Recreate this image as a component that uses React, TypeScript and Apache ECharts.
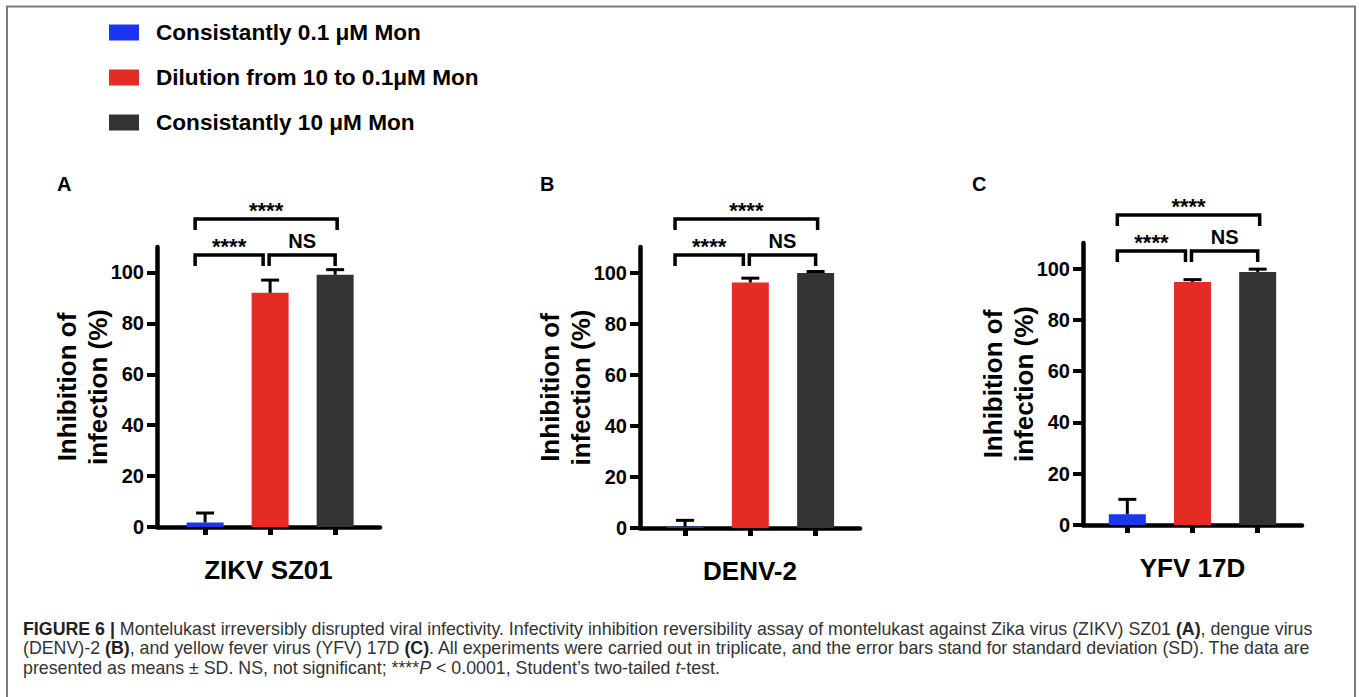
import React, { useEffect, useRef } from 'react';
import * as echarts from 'echarts';

// ---------- data ----------
const legendNames = ['Consistantly 0.1 μM Mon', 'Dilution from 10 to 0.1μM Mon', 'Consistantly 10 μM Mon'];
const barColors = ['#1b35f0', '#e42c25', '#333333'];
const panelLetters = ['A', 'B', 'C'];
const virusNames = ['ZIKV SZ01', 'DENV-2', 'YFV 17D'];
const categoryIndex = [0, 1, 2];

// mean inhibition (%) per group [0.1 µM, dilution, 10 µM]
const meansZIKV = [1.8, 92.0, 99.1];
const meansDENV = [0.5, 96.1, 99.8];
const meansYFV = [4.2, 94.8, 98.7];
// standard deviations
const sdZIKV = [3.7, 5.0, 2.0];
const sdDENV = [2.5, 1.7, 0.6];
const sdYFV = [5.8, 0.9, 1.1];

const yTickValues = [0, 20, 40, 60, 80, 100];
// comparisons: [groupA, groupB, bracket level]
const comparisonPairs = [[0, 1, 0], [1, 2, 0], [0, 2, 1]];
const comparisonLabels = ['****', 'NS', '****'];

const captionLines = [
  '{b|FIGURE 6 |} Montelukast irreversibly disrupted viral infectivity. Infectivity inhibition reversibility assay of montelukast against Zika virus (ZIKV) SZ01 {b|(A)}, dengue virus',
  '(DENV)-2 {b|(B)}, and yellow fever virus (YFV) 17D {b|(C)}. All experiments were carried out in triplicate, and the error bars stand for standard deviation (SD). The data are',
  'presented as means ± SD. NS, not significant; ****{i|P} < 0.0001, Student’s two-tailed {i|t}-test.',
];

const allMeans = [meansZIKV, meansDENV, meansYFV];
const allSds = [sdZIKV, sdDENV, sdYFV];

// ---------- layout ----------
const FONT = '"Liberation Sans", Arial, Helvetica, sans-serif';
const panels = [
  { left: 157, top: 247, width: 223, height: 280, min: -0.74, max: 2.69, letterX: 57 },
  { left: 640, top: 247, width: 220, height: 281, min: -0.69, max: 2.68, letterX: 540 },
  { left: 1083, top: 243, width: 219, height: 282, min: -0.68, max: 2.68, letterX: 972 },
];
const Y_MAX = 110;
const CAPTION_SIZE = 17.8;

export default function App() {
  const ref = useRef<HTMLDivElement>(null);

  useEffect(() => {
    document.body.style.margin = '0';
    const chart = echarts.init(ref.current!, undefined, { renderer: 'svg' });

    const grids: any[] = [];
    const xAxes: any[] = [];
    const yAxes: any[] = [];
    const series: any[] = [];

    panels.forEach((p, pi) => {
      grids.push({ left: p.left, top: p.top, width: p.width, height: p.height, containLabel: false });
      xAxes.push({
        gridIndex: pi,
        type: 'value',
        min: p.min,
        max: p.max,
        axisLine: { show: true, onZero: false, lineStyle: { color: '#000', width: 4.5 } },
        axisTick: { show: true, customValues: categoryIndex, length: 8, lineStyle: { color: '#000', width: 5 } },
        axisLabel: { show: false },
        splitLine: { show: false },
        name: virusNames[pi],
        nameLocation: 'middle',
        nameGap: 30,
        nameTextStyle: { fontSize: 26, fontWeight: 'bold', color: '#000', fontFamily: FONT },
      });
      yAxes.push({
        gridIndex: pi,
        type: 'value',
        min: 0,
        max: Y_MAX,
        axisLine: { show: true, onZero: false, lineStyle: { color: '#000', width: 4.5 } },
        axisTick: { show: true, customValues: yTickValues, length: 10, lineStyle: { color: '#000', width: 4 } },
        axisLabel: { customValues: yTickValues, fontSize: 20, fontWeight: 'bold', color: '#000', margin: 13, fontFamily: FONT },
        splitLine: { show: false },
        name: 'Inhibition of\ninfection (%)',
        nameLocation: 'middle',
        nameGap: 44,
        nameMoveOverlap: false,
        nameTextStyle: { fontSize: 26, fontWeight: 'bold', color: '#000', lineHeight: 31, fontFamily: FONT },
      });

      categoryIndex.forEach((ci) => {
        series.push({
          type: 'bar',
          name: legendNames[ci],
          xAxisIndex: pi,
          yAxisIndex: pi,
          barWidth: 37,
          barGap: '-100%',
          itemStyle: { color: barColors[ci] },
          data: [[ci, allMeans[pi][ci]]],
          z: 2,
        });
      });

      series.push({
        type: 'custom',
        xAxisIndex: pi,
        yAxisIndex: pi,
        clip: false,
        z: 3,
        data: categoryIndex.map((ci) => [ci, allMeans[pi][ci], allSds[pi][ci]]),
        renderItem: (params: any, api: any) => {
          const x = api.value(0);
          const m = api.value(1);
          const s = api.value(2);
          const base = api.coord([x, m]);
          const top = api.coord([x, m + s]);
          return {
            type: 'group',
            children: [
              { type: 'line', shape: { x1: base[0], y1: base[1], x2: top[0], y2: top[1] }, style: { stroke: '#000', lineWidth: 3 } },
              { type: 'line', shape: { x1: top[0] - 9, y1: top[1], x2: top[0] + 9, y2: top[1] }, style: { stroke: '#000', lineWidth: 3 } },
            ],
          };
        },
      });

      series.push({
        type: 'custom',
        xAxisIndex: pi,
        yAxisIndex: pi,
        clip: false,
        z: 3,
        data: comparisonPairs,
        renderItem: (params: any, api: any) => {
          const a = api.value(0);
          const b = api.value(1);
          const level = api.value(2);
          const pa = api.coord([a, Y_MAX]);
          const pb = api.coord([b, Y_MAX]);
          const axisTop = pa[1];
          const x1 = pa[0] + (a === 0 ? -10 : -1);
          const x2 = pb[0] + (b === 1 ? -7 : level === 1 ? 2 : 0);
          const yH = level === 1 ? axisTop - 28 : axisTop + 8;
          const yL = yH + 11;
          const label = comparisonLabels[params.dataIndex];
          const isStars = label.indexOf('*') >= 0;
          return {
            type: 'group',
            children: [
              {
                type: 'polyline',
                shape: { points: [[x1, yL], [x1, yH], [x2, yH], [x2, yL]] },
                style: { stroke: '#000', lineWidth: 3.5, fill: 'none' },
              },
              {
                type: 'text',
                x: (x1 + x2) / 2,
                y: isStars ? yH + 2 : yH - 4,
                style: {
                  text: label,
                  fontSize: isStars ? 22 : 20,
                  fontWeight: 'bold',
                  fontFamily: FONT,
                  fill: '#000',
                  align: 'center',
                  verticalAlign: 'bottom',
                },
              },
            ],
          };
        },
      });
    });

    const graphics: any[] = [
      {
        type: 'rect',
        shape: { x: 7, y: 6.5, width: 1348, height: 720 },
        style: { fill: 'none', stroke: '#7a7a7a', lineWidth: 2 },
        silent: true,
      },
    ];
    panels.forEach((p, pi) => {
      graphics.push({
        type: 'text',
        x: p.letterX,
        y: 184,
        style: { text: panelLetters[pi], fontSize: 20, fontWeight: 'bold', fontFamily: FONT, fill: '#000', verticalAlign: 'middle' },
      });
    });
    captionLines.forEach((line, li) => {
      graphics.push({
        type: 'text',
        x: 23,
        y: 629 + li * 19.3,
        style: {
          text: line,
          fontSize: CAPTION_SIZE,
          fontFamily: FONT,
          fill: '#333',
          verticalAlign: 'middle',
          rich: {
            b: { fontWeight: 'bold', fontSize: CAPTION_SIZE, fontFamily: FONT, fill: '#222' },
            i: { fontStyle: 'italic', fontSize: CAPTION_SIZE, fontFamily: FONT, fill: '#333' },
          },
        },
      });
    });

    chart.setOption({
      animation: false,
      backgroundColor: '#fff',
      legend: {
        data: legendNames,
        orient: 'vertical',
        left: 104,
        top: 16,
        itemWidth: 30,
        itemHeight: 16,
        itemGap: 22,
        icon: 'rect',
        selectedMode: false,
        textStyle: { fontSize: 22.6, fontWeight: 'bold', color: '#000', fontFamily: FONT, padding: [0, 0, 0, 12] },
      },
      grid: grids,
      xAxis: xAxes,
      yAxis: yAxes,
      series,
      graphic: graphics,
    });

    return () => chart.dispose();
  }, []);

  return <div ref={ref} style={{ width: 1359, height: 697 }} />;
}
